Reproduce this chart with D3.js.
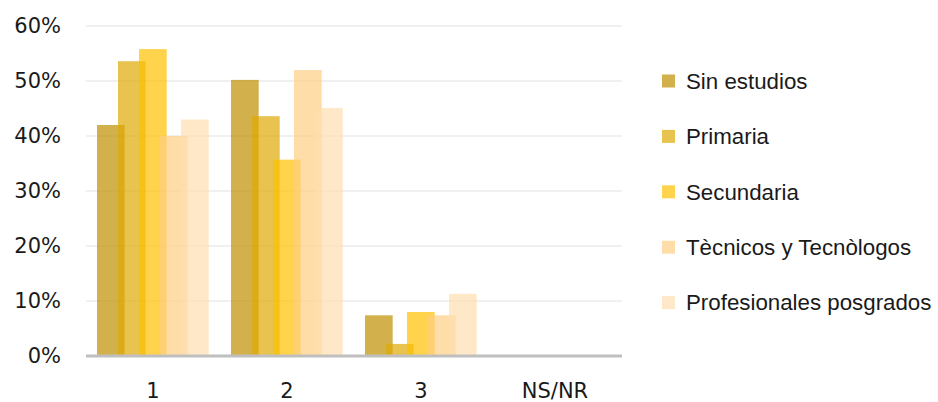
<!DOCTYPE html>
<html><head><meta charset="utf-8">
<script src="https://cdn.jsdelivr.net/npm/d3@7"></script>
<style>
html,body{margin:0;padding:0;background:#fff;}
svg text{fill:#1a1a1a;}
</style></head>
<body>
<svg id="chart" width="938" height="402"></svg>
<script>
const categories = ["1", "2", "3", "NS/NR"];
const series = ["Sin estudios", "Primaria", "Secundaria", "Tècnicos y Tecnòlogos", "Profesionales posgrados"];
const sinEstudios   = [42.0, 50.2, 7.4, 0];
const primaria      = [53.6, 43.6, 2.2, 0];
const secundaria    = [55.8, 35.7, 8.0, 0];
const tecnicos      = [40.0, 52.0, 7.4, 0];
const profesionales = [43.0, 45.1, 11.3, 0];
const yTicks = [0, 10, 20, 30, 40, 50, 60];
const baseColors = ["#BF9000", "#DEA905", "#FFC000", "#FFCE83", "#FFDEB0"];

const values = [sinEstudios, primaria, secundaria, tecnicos, profesionales];
const svg = d3.select("#chart");
const plotLeft = 86, plotRight = 622, plotTop = 26, plotBottom = 356;

const x = d3.scaleBand().domain(categories).range([plotLeft, plotRight]).paddingInner(0);
const xSub = d3.scaleBand().domain(series).range([11, 116]).paddingInner(0);
const barW = 27.7;
const y = d3.scaleLinear().domain([0, 60]).range([plotBottom, plotTop]);

// gridlines
svg.append("g").selectAll("line").data(yTicks.filter(t => t > 0)).join("line")
  .attr("x1", plotLeft).attr("x2", plotRight)
  .attr("y1", d => y(d)).attr("y2", d => y(d))
  .attr("stroke", "#EBEBEB").attr("stroke-width", 1.3);

// y labels
const yAxis = d3.axisLeft(y).tickValues(yTicks).tickFormat(d => d + "%").tickSize(0).tickPadding(0);
const gy = svg.append("g").attr("transform", `translate(61,0)`).call(yAxis);
gy.select(".domain").remove();
gy.selectAll("text").style("font-size", "21px").style("fill", "#1a1a1a").style("font-family", "'DejaVu Sans', Verdana, sans-serif");

// bars
series.forEach((s, i) => {
  svg.append("g").selectAll("rect").data(categories).join("rect")
    .attr("x", c => x(c) + xSub(s))
    .attr("width", barW)
    .attr("y", (c, j) => y(values[i][j]))
    .attr("height", (c, j) => plotBottom - y(values[i][j]))
    .attr("fill", baseColors[i]).attr("fill-opacity", 0.7);
});

// baseline
svg.append("line").attr("x1", plotLeft).attr("x2", plotRight)
  .attr("y1", plotBottom).attr("y2", plotBottom)
  .attr("stroke", "#BFBFBF").attr("stroke-width", 3);

// x labels
const xAxis = d3.axisBottom(x).tickSize(0).tickPadding(0);
const gx = svg.append("g").attr("transform", `translate(0,${plotBottom + 27})`).call(xAxis);
gx.select(".domain").remove();
gx.selectAll("text").style("font-size", "21px").style("fill", "#1a1a1a").style("font-family", "'DejaVu Sans', Verdana, sans-serif");

// legend
const lg = svg.append("g");
series.forEach((s, i) => {
  const cy = 81 + i * 55.4;
  lg.append("rect").attr("x", 662).attr("y", cy - 6.5).attr("width", 13).attr("height", 13)
    .attr("fill", baseColors[i]).attr("fill-opacity", 0.7);
  lg.append("text").attr("x", 686).attr("y", cy).attr("dy", "0.35em")
    .style("font-family", "'Liberation Sans', Arial, sans-serif")
    .style("font-size", "22.3px").text(s);
});
</script>
</body></html>
